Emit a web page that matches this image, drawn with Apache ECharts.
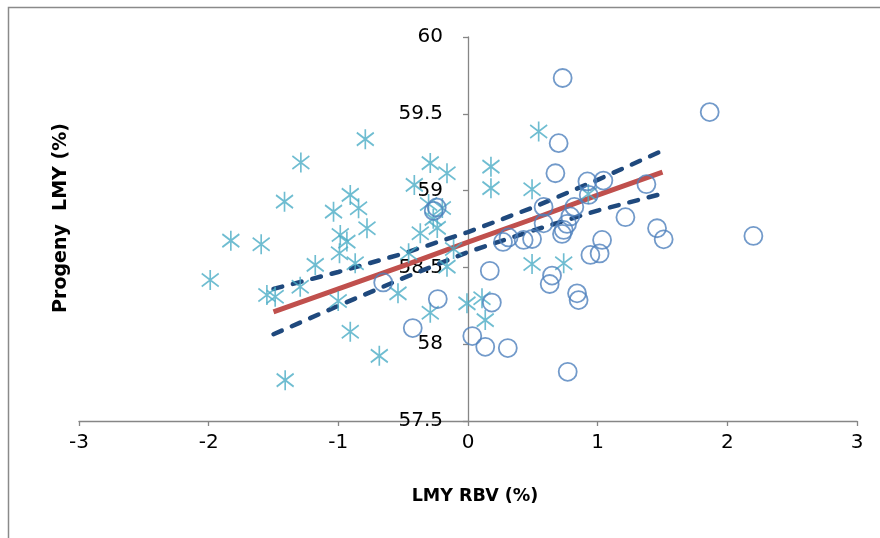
<!DOCTYPE html>
<html>
<head>
<meta charset="utf-8">
<script src="https://cdn.jsdelivr.net/npm/echarts@6/dist/echarts.min.js"></script>
<style>
  html, body { margin: 0; padding: 0; background: #fff; }
  #chart { width: 880px; height: 538px; }
</style>
</head>
<body>
<div id="chart"></div>
<script>
// Sire groups: RBV (x) against progeny lean meat yield (y)
const circleX = [0.730, 1.864, 0.699, 0.674, 0.921, 1.044, 1.376, 0.931, 0.583, 0.820,
                 0.789, 0.764, 0.738, 0.725, 0.583, 0.494, 0.429, 0.313, 0.270, 1.214,
                 1.458, 1.509, 1.034, 0.944, 1.015, 2.201, 0.168, 0.648, 0.630, 0.841,
                 0.853, 0.184, 0.033, 0.133, 0.307, 0.769, -0.264, -0.241, -0.233, -0.426,
                 -0.654];
const circleY = [59.733, 59.511, 59.309, 59.113, 59.060, 59.065, 59.042, 58.972, 58.894, 58.894,
                 58.832, 58.783, 58.744, 58.718, 58.787, 58.685, 58.679, 58.695, 58.666, 58.827,
                 58.755, 58.683, 58.679, 58.581, 58.591, 58.705, 58.478, 58.447, 58.392, 58.331,
                 58.287, 58.271, 58.053, 57.983, 57.975, 57.820, 58.868, 58.890, 58.294, 58.105,
                 58.402];

const starX = [-1.988, -1.829, -1.595, -1.415, -1.289, -0.792, -1.551, -1.487, -1.294, -1.410,
               -1.178, -1.037, -0.908, -0.844, -0.779, -0.985, -0.934, -0.991, -0.870, -1.001,
               -0.908, -0.684, -0.540, -0.291, -0.368, -0.291, -0.162, -0.414, -0.304, -0.198,
               -0.268, -0.237, -0.458, -0.111, -0.162, -0.008, 0.108, 0.133, 0.177, 0.177,
               0.494, 0.545, 0.494, 0.738, 0.928];
const starY = [58.418, 58.674, 58.651, 58.928, 59.183, 59.335, 58.320, 58.309, 58.374, 57.766,
               58.516, 58.863, 58.972, 58.885, 58.755, 58.711, 58.668, 58.592, 58.527, 58.281,
               58.081, 57.924, 58.331, 58.205, 58.722, 59.179, 59.113, 59.037, 58.913, 58.887,
               58.816, 58.757, 58.592, 58.620, 58.505, 58.266, 58.299, 58.157, 59.156, 59.016,
               59.009, 59.385, 58.522, 58.527, 58.978];

// Regression line with its upper and lower confidence limits
const fitX  = [-1.5, -1.0, -0.5, 0.0, 0.5, 1.0, 1.5];
const fitY  = [58.21, 58.36, 58.51, 58.665, 58.815, 58.97, 59.12];
const upperY = [58.36, 58.47, 58.59, 58.73, 58.89, 59.07, 59.26];
const lowerY = [58.065, 58.25, 58.43, 58.60, 58.74, 58.87, 58.98];

const xTicks = { min: -3, max: 3, step: 1 };
const yTicks = { min: 57.5, max: 60, step: 0.5 };

const zip = (a, b) => a.map((v, i) => [v, b[i]]);

const FONT = 'DejaVu Sans';
const AXIS_GREY = '#868686';
const STAR = 'path://M8.5,0L8.5,20M0,3.5L17,16.5M0,16.5L17,3.5';

const GRID = { left: 79, right: 23, top: 37, bottom: 117 };
const W = 880;

const chart = echarts.init(document.getElementById('chart'), null, { renderer: 'canvas' });

// the vertical axis sits where x = 0, so shift it in from the grid's left edge
const plotW = W - GRID.left - GRID.right;
const yAxisShift = plotW * (0 - xTicks.min) / (xTicks.max - xTicks.min);

chart.setOption({
  animation: false,
  backgroundColor: '#ffffff',
  grid: Object.assign({ containLabel: false }, GRID),
  xAxis: {
    type: 'value',
    min: xTicks.min, max: xTicks.max, interval: xTicks.step,
    splitLine: { show: false },
    axisLine: { show: true, onZero: false, lineStyle: { color: AXIS_GREY, width: 1.3 } },
    axisTick: { show: true, length: 5, lineStyle: { color: AXIS_GREY, width: 1.3 } },
    axisLabel: { color: '#000', fontFamily: FONT, fontSize: 20, margin: 12 }
  },
  yAxis: {
    type: 'value',
    min: yTicks.min, max: yTicks.max, interval: yTicks.step,
    offset: -yAxisShift,
    splitLine: { show: false },
    axisLine: { show: true, onZero: false, lineStyle: { color: AXIS_GREY, width: 1.3 } },
    axisTick: { show: true, length: 5, lineStyle: { color: AXIS_GREY, width: 1.3 } },
    axisLabel: { color: '#000', fontFamily: FONT, fontSize: 20, margin: 25 }
  },
  graphic: [
    {
      type: 'rect', z: -1, silent: true,
      shape: { x: 8.5, y: 7.5, width: 1000, height: 1000 },
      style: { fill: 'none', stroke: '#8a8a8a', lineWidth: 1.5 }
    },
    {
      type: 'text', x: 475, y: 496, silent: true,
      style: { text: 'LMY RBV (%)', fontFamily: FONT, fontWeight: 'bold', fontSize: 17.5,
               fill: '#000', textAlign: 'center', textVerticalAlign: 'middle' }
    },
    {
      type: 'text', x: 61, y: 218, rotation: Math.PI / 2, silent: true,
      style: { text: 'Progeny  LMY (%)', fontFamily: FONT, fontWeight: 'bold', fontSize: 19,
               fill: '#000', textAlign: 'center', textVerticalAlign: 'middle' }
    }
  ],
  series: [
    {
      type: 'line', data: zip(fitX, upperY), symbol: 'none', z: 2,
      lineStyle: { color: '#1F497D', width: 4.5, type: [9, 11], cap: 'round' }
    },
    {
      type: 'line', data: zip(fitX, lowerY), symbol: 'none', z: 2,
      lineStyle: { color: '#1F497D', width: 4.5, type: [9, 11], cap: 'round' }
    },
    {
      type: 'line', data: zip(fitX, fitY), symbol: 'none', z: 2,
      lineStyle: { color: '#C0504D', width: 5 }
    },
    {
      type: 'scatter', data: zip(starX, starY), z: 3,
      symbol: STAR, symbolSize: [17, 20],
      itemStyle: { color: 'rgba(0,0,0,0)', borderColor: '#4BACC6', borderWidth: 1.8 }
    },
    {
      type: 'scatter', data: zip(circleX, circleY), z: 4,
      symbol: 'circle', symbolSize: 18,
      itemStyle: { color: 'rgba(0,0,0,0)', borderColor: '#4F81BD', borderWidth: 1.8 }
    }
  ]
});
</script>
</body>
</html>
